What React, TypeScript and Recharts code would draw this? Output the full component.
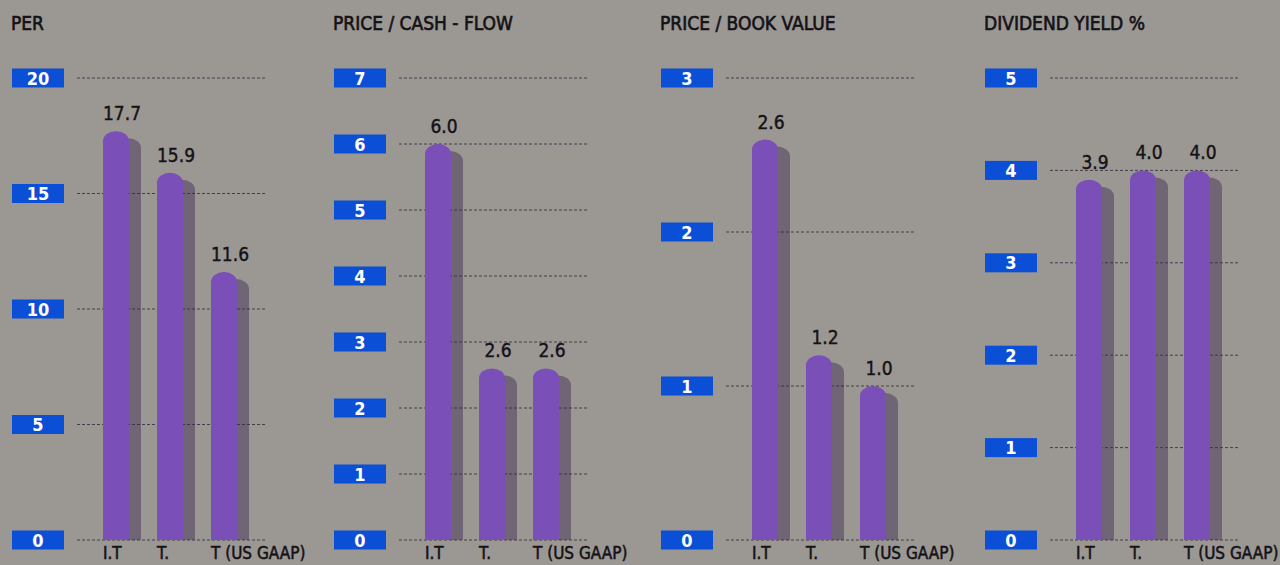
import { BarChart, Bar, XAxis, YAxis, CartesianGrid, LabelList } from 'recharts';

const categories = ['I.T', 'T.', 'T (US GAAP)'];

const perValues = [17.7, 15.9, 11.6];
const priceCashFlowValues = [6.0, 2.6, 2.6];
const priceBookValues = [2.6, 1.2, 1.0];
const dividendYieldValues = [3.9, 4.0, 4.0];

const perTicks = [0, 5, 10, 15, 20];
const priceCashFlowTicks = [0, 1, 2, 3, 4, 5, 6, 7];
const priceBookTicks = [0, 1, 2, 3];
const dividendYieldTicks = [0, 1, 2, 3, 4, 5];

const titles = ['PER', 'PRICE / CASH - FLOW', 'PRICE / BOOK VALUE', 'DIVIDEND YIELD %'];

const FONT = '"DejaVu Sans Condensed", "Liberation Sans Narrow", sans-serif';
const INK = '#141216';
const BG = '#9b9793';
const BAR = '#7a4fb8';
const SHADOW = 'rgba(60, 40, 80, 0.45)';
const BOX = '#0b4fd6';

const panels = [
  { title: titles[0], values: perValues, ticks: perTicks, left: 0, width: 322 },
  { title: titles[1], values: priceCashFlowValues, ticks: priceCashFlowTicks, left: 322, width: 327 },
  { title: titles[2], values: priceBookValues, ticks: priceBookTicks, left: 649, width: 324 },
  { title: titles[3], values: dividendYieldValues, ticks: dividendYieldTicks, left: 973, width: 307 },
];

// bar with a rounded cap
function capPath(x: number, y: number, w: number, h: number) {
  const rx = w / 2;
  const ry = Math.min(10, h);
  return `M${x},${y + h} L${x},${y + ry} A${rx},${ry} 0 0 1 ${x + w},${y + ry} L${x + w},${y + h} Z`;
}

function ShadowBar(props: any) {
  const { x, y, width, height } = props;
  if (!height || height <= 0) return null;
  const dx = 12;
  const dy = 7;
  return (
    <g>
      <path d={capPath(x + dx, y + dy, width, height - dy)} fill={SHADOW} />
      <path d={capPath(x, y, width, height)} fill={BAR} />
    </g>
  );
}

function ValueLabel(props: any) {
  const { x, y, width, value } = props;
  return (
    <text
      x={x + width / 2 + 6}
      y={y - 11}
      textAnchor="middle"
      fontFamily={FONT}
      fontSize={19}
      fill={INK}
      stroke={INK}
      strokeWidth={0.4}
    >
      {Number(value).toFixed(1)}
    </text>
  );
}

function BoxTick(props: any) {
  const { y, payload } = props;
  return (
    <g>
      <rect x={12} y={y - 9.5} width={52} height={19} fill={BOX} />
      <text
        x={38}
        y={y + 6.5}
        textAnchor="middle"
        fontFamily={FONT}
        fontWeight="bold"
        fontSize={18}
        fill="#ffffff"
      >
        {payload.value}
      </text>
    </g>
  );
}

function CategoryTick(props: any) {
  const { x, payload } = props;
  return (
    <text
      x={x - 13}
      y={559}
      textAnchor="start"
      fontFamily={FONT}
      fontSize={17}
      fill={INK}
      stroke={INK}
      strokeWidth={0.5}
    >
      {payload.value}
    </text>
  );
}

function Panel({ title, values, ticks, left, width }: any) {
  const data = categories.map((name, i) => ({ name, value: values[i] }));
  const max = ticks[ticks.length - 1];
  return (
    <div style={{ position: 'absolute', left, top: 0, width, height: 565 }}>
      <div
        style={{
          position: 'absolute',
          left: 11,
          top: 14,
          fontFamily: FONT,
          fontSize: 19,
          lineHeight: '19px',
          color: INK,
          WebkitTextStroke: '0.6px ' + INK,
          whiteSpace: 'nowrap',
        }}
      >
        {title}
      </div>
      <BarChart
        width={width}
        height={565}
        data={data}
        margin={{ top: 78, right: width - 267, bottom: 0, left: 0 }}
      >
        <CartesianGrid
          vertical={false}
          stroke="#463d4c"
          strokeDasharray="3 2"
          strokeWidth={1}
        />
        <XAxis
          dataKey="name"
          height={25}
          axisLine={false}
          tickLine={false}
          padding={{ left: 12, right: 16 }}
          tick={<CategoryTick />}
          interval={0}
        />
        <YAxis
          width={77}
          domain={[0, max]}
          ticks={ticks}
          axisLine={false}
          tickLine={false}
          tick={<BoxTick />}
          interval={0}
        />
        <Bar dataKey="value" barSize={26} shape={<ShadowBar />} isAnimationActive={false}>
          <LabelList dataKey="value" content={<ValueLabel />} />
        </Bar>
      </BarChart>
    </div>
  );
}

export default function App() {
  return (
    <div
      style={{
        position: 'absolute',
        left: 0,
        top: 0,
        width: 1280,
        height: 565,
        overflow: 'hidden',
        background: BG,
      }}
    >
      {panels.map((p) => (
        <Panel key={p.title} {...p} />
      ))}
    </div>
  );
}
